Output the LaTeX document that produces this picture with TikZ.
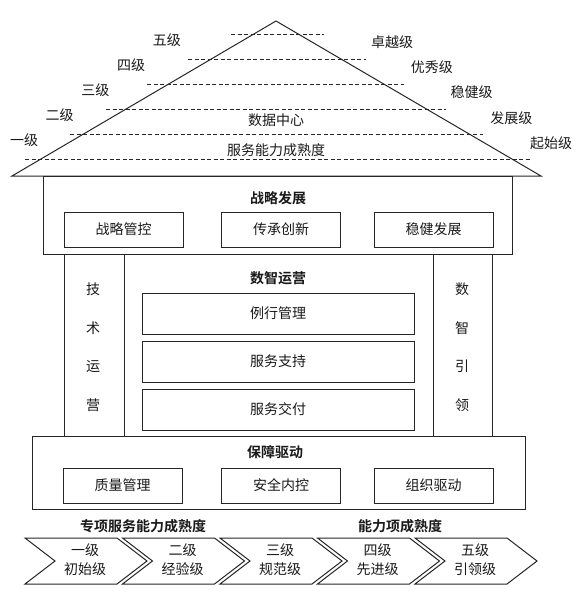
\documentclass[tikz,border=0pt]{standalone}
\usepackage{fontspec}
\setmainfont{Noto Sans CJK SC}[BoldFont={Noto Sans CJK SC Bold}]
\tikzset{
  edge/.style={draw=black!85, line width=1pt},
  lvl/.style={draw=black!85, line width=0.8pt, dash pattern=on 4pt off 2.5pt},
  lbl/.style={font=\fontsize{14}{19}\selectfont, text=black!90, inner sep=1pt},
  ttl/.style={lbl, font=\fontsize{14}{19}\selectfont\bfseries},
  box/.style={edge, lbl, inner sep=0pt}
}
\begin{document}
\begin{tikzpicture}[x=1pt, y=-1pt]
  \useasboundingbox (0,0) rectangle (583,600);
  %% Roof with level lines
  \draw[edge] (12,176) -- (276,21) -- (541,176) -- cycle;
  \foreach \y/\xa/\xb in {34/231/324, 59/188/366, 84/147/404, 109/106/446, 134/70/483, 159/25/530}{
    \draw[lvl] (\xa,\y) -- (\xb,\y);
  }
  %% Level labels: {i}/{left}/{right}
  \foreach \i/\lft/\rgt in {0/一级/起始级, 1/二级/发展级, 2/三级/稳健级, 3/四级/优秀级, 4/五级/卓越级}{
    \node[lbl] (lvlL\i) at ({24+35.7*\i}, {140-25*\i}) {\lft};
    \node[lbl] (lvlR\i) at ({551-39.7*\i}, {143-25.2*\i}) {\rgt};
  }
  \node[lbl] (sjzx) at (276,120) {数据中心};
  \node[lbl] (fwnl) at (276,150) {服务能力成熟度};
  %% Strategy block
  \node[box, minimum width=469, minimum height=78] (zlfz) at (277.5,215) {};
  \node[ttl] (zlfzT) at (278,198) {战略发展};
  \foreach \n/\x/\t in {a/123.5/战略管控, b/281/传承创新, c/433.5/稳健发展}{
    \node[box, minimum width=119, minimum height=35] (zl\n) at (\x,229.5) {\t};
  }
  %% Pillars
  \node[box, minimum width=60, minimum height=182] (jsyy) at (94,345) {};
  \node[box, minimum width=59, minimum height=182] (szyl) at (462.5,345) {};
  \foreach \i/\a/\b in {0/技/数, 1/术/智, 2/运/引, 3/营/领}{
    \node[lbl] (jsT\i) at (93, {289+38.7*\i}) {\a};
    \node[lbl] (szT\i) at (462, {289+38.7*\i}) {\b};
  }
  %% Operations
  \node[ttl] (szyy) at (278,278) {数智运营};
  \foreach \i/\t in {0/例行管理, 1/服务支持, 2/服务交付}{
    \node[box, minimum width=272, minimum height=41] (yy\i) at (278, {313.5+48*\i}) {\t};
  }
  %% Support block
  \node[box, minimum width=493, minimum height=73] (bzqd) at (278.5,472.5) {};
  \node[ttl] (bzqdT) at (275,452) {保障驱动};
  \foreach \n/\x/\t in {a/122.5/质量管理, b/281/安全内控, c/433.5/组织驱动}{
    \node[box, minimum width=119, minimum height=35] (bz\n) at (\x,485.5) {\t};
  }
  %% Maturity headings
  \node[ttl] (zxfw) at (143,526) {专项服务能力成熟度};
  \node[ttl] (nlx) at (400,526) {能力项成熟度};
  %% Chevrons: {i}/{level}/{name}
  \foreach \i/\a/\b in {0/一级/初始级, 1/二级/经验级, 2/三级/规范级, 3/四级/先进级, 4/五级/引领级}{
    \draw[edge] ({25+97.5*\i},538) -- ++(92,0) -- ++(30,23) -- ++(-30,23)
      -- ++(-92,0) -- ++(30,-23) -- cycle;
    \node[lbl, align=center] (chev\i) at ({85+97.5*\i},559.5) {\a\\\b};
  }
\end{tikzpicture}
\end{document}
